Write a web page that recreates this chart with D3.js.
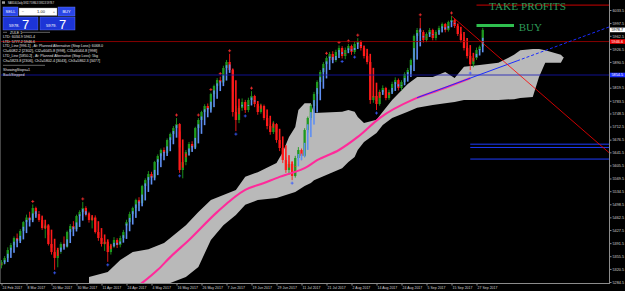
<!DOCTYPE html>
<html>
<head>
<meta charset="utf-8">
<script src="https://cdn.jsdelivr.net/npm/d3@7"></script>
<style>
  html, body { margin: 0; padding: 0; background: #000; overflow: hidden; }
  text { font-family: "Liberation Sans", Arial, sans-serif; }
</style>
</head>
<body>
<script>
// NAS100 daily, Feb - Sep 2017

const dateIdx = [0, 8, 16, 24, 32, 40, 48, 56, 64, 72, 80, 88, 96, 104, 112, 120, 128, 136, 144, 152];
const dateLabels = ["24 Feb 2017", "8 Mar 2017", "20 Mar 2017", "30 Mar 2017", "11 Apr 2017", "24 Apr 2017",
  "4 May 2017", "16 May 2017", "26 May 2017", "7 Jun 2017", "19 Jun 2017", "29 Jun 2017", "11 Jul 2017",
  "21 Jul 2017", "2 Aug 2017", "14 Aug 2017", "24 Aug 2017", "5 Sep 2017", "15 Sep 2017", "27 Sep 2017"];

const priceTicks = [6033.5, 5997.5, 5962.5, 5926.5, 5890.5, 5855.5, 5819.5, 5783.5, 5748.5, 5712.5, 5676.5,
  5641.5, 5605.5, 5569.5, 5534.5, 5498.5, 5462.5, 5427.5, 5391.5, 5355.5, 5320.5, 5284.5];

// [open, high, low, close]
const candles = [
  [5330,5345,5322,5339.5],[5339.5,5356,5332,5350.5],[5350.5,5380,5346,5372.5],[5372.5,5392,5365,5386.3],
  [5386.3,5410,5380,5405.6],[5405.6,5418,5392,5398],[5398,5430,5394,5425],[5425,5452,5420,5449.6],
  [5449.6,5470,5440,5462],[5462,5478,5450,5455],[5455,5498,5452,5488.2],[5488.2,5492,5466,5471.6],
  [5471.6,5480,5450,5455.2],[5455.2,5462,5428,5433.1],[5433.1,5445,5405,5440],[5440,5442,5385,5389.1],
  [5389.1,5398,5360,5367],[5367,5380,5318,5350.5],[5350.5,5378,5325,5372.5],[5372.5,5394,5362,5389.1],
  [5389.1,5410,5378,5382],[5382,5426,5378,5422.1],[5422.1,5444,5415,5438.6],[5438.6,5452,5425,5430],
  [5430,5470,5428,5466.2],[5466.2,5482,5458,5477.2],[5477.2,5505,5470,5488.2],[5488.2,5493,5465,5471.6],
  [5471.6,5478,5448,5455.2],[5455.2,5466,5432,5462],[5462,5468,5418,5422.1],[5422.1,5430,5398,5405.6],
  [5405.6,5415,5382,5389.1],[5389.1,5400,5370,5395],[5395,5398,5340,5367],[5367,5390,5360,5383.5],
  [5383.5,5408,5378,5400.1],[5400.1,5405,5378,5386.3],[5386.3,5412,5380,5405.6],[5405.6,5428,5398,5422.1],
  [5440,5456,5436,5449.6],[5449.6,5478,5445,5471.6],[5471.6,5492,5466,5488.2],[5488.2,5514,5480,5510.2],
  [5510.2,5518,5495,5502],[5502,5552,5498,5548.8],[5548.8,5570,5540,5565.3],[5565.3,5590,5556,5581.8],
  [5581.8,5588,5562,5572],[5572,5618,5568,5614.9],[5614.9,5636,5608,5631.4],[5631.4,5652,5624,5648],
  [5648,5655,5630,5640],[5640,5680,5636,5675.5],[5675.5,5696,5668,5692],[5692,5714,5686,5708.5],
  [5708.5,5736,5702,5719.5],[5719.5,5722,5585,5592.9],[5592.9,5620,5570,5614.9],[5614.9,5648,5606,5642.4],
  [5642.4,5670,5632,5664.5],[5664.5,5672,5646,5655],[5655,5712,5650,5708.5],[5708.5,5736,5700,5730.6],
  [5730.6,5756,5722,5752.6],[5752.6,5774,5744,5769.1],[5769.1,5776,5750,5760],[5760,5806,5756,5802.1],
  [5802.1,5828,5794,5824.2],[5824.2,5846,5815,5840.7],[5840.7,5850,5826,5834],[5834,5880,5830,5873.8],
  [5873.8,5896,5866,5890.3],[5890.3,5913,5862,5868.3],[5868.3,5872,5740,5752.6],[5752.6,5770,5700,5730.6],
  [5730.6,5770,5722,5763.6],[5763.6,5790,5756,5780.1],[5780.1,5786,5750,5758.1],[5758.1,5792,5752,5785.6],
  [5785.6,5810,5778,5796.7],[5796.7,5800,5766,5774.6],[5774.6,5782,5745,5752.6],[5752.6,5776,5748,5769.1],
  [5769.1,5773,5730,5736.1],[5736.1,5744,5705,5714],[5714,5720,5690,5697.5],[5697.5,5728,5692,5719.5],
  [5719.5,5722,5668,5675.5],[5675.5,5684,5645,5653.5],[5653.5,5660,5612,5620.4],[5620.4,5628,5585,5592.9],
  [5592.9,5616,5580,5609.4],[5609.4,5614,5565,5576.4],[5576.4,5632,5572,5625.9],[5625.9,5656,5618,5648],
  [5648,5652,5620,5632],[5632,5708,5628,5703],[5703,5740,5696,5736.1],[5736.1,5774,5730,5769.1],
  [5769.1,5808,5762,5802.1],[5802.1,5840,5796,5835.2],[5835.2,5868,5828,5862.7],[5862.7,5890,5856,5884.8],
  [5884.8,5906,5876,5901.3],[5901.3,5918,5890,5912.3],[5912.3,5920,5888,5895.8],[5895.8,5924,5890,5917.8],
  [5917.8,5936,5910,5928.8],[5928.8,5934,5900,5906.8],[5906.8,5930,5898,5923.3],[5923.3,5940,5915,5934.4],
  [5934.4,5938,5910,5917.8],[5917.8,5946,5912,5939.9],[5939.9,5956,5932,5945.4],[5945.4,5950,5922,5928.8],
  [5928.8,5934,5900,5906.8],[5906.8,5915,5884,5890.3],[5890.3,5892,5775,5785.6],[5785.6,5810,5778,5796.7],
  [5796.7,5802,5758,5774.6],[5774.6,5814,5770,5807.7],[5807.7,5826,5800,5818.7],[5818.7,5822,5785,5791.1],
  [5791.1,5814,5786,5807.7],[5807.7,5836,5802,5829.7],[5829.7,5848,5822,5840.7],[5840.7,5845,5812,5818.7],
  [5818.7,5840,5812,5835.2],[5835.2,5862,5830,5857.2],[5857.2,5874,5850,5868.3],[5868.3,5900,5862,5895.8],
  [5895.8,5966,5890,5961.9],[5961.9,5984,5955,5978.4],[5978.4,6012,5968,5972.9],[5972.9,5978,5944,5950.9],
  [5950.9,5972,5945,5967.4],[5967.4,5984,5960,5978.4],[5978.4,5982,5950,5956.4],[5956.4,5978,5950,5972.9],
  [5972.9,5990,5966,5983.9],[5983.9,5999,5976,5994.9],[5994.9,5998,5972,5978.4],[5978.4,6004,5974,6000.4],
  [6000.4,6017,5994,6005.9],[6005.9,6010,5984,5989.4],[5989.4,5994,5962,5967.4],[5967.4,5972,5944,5950.9],
  [5950.9,5958,5922,5928.8],[5928.8,5934,5900,5906.8],[5906.8,5918,5868,5884],[5884,5906,5876,5901.3],
  [5901.3,5930,5896,5923.3],[5923.3,5936,5912,5932.3],[5932.7,5984.3,5932.3,5978.7]
];

// fractal style markers (bar indices)
const upMarks = [10, 26, 56, 63, 67, 70, 73, 80, 104, 108, 111, 114, 134, 144];
const downMarks = [17, 34, 57, 75, 78, 93, 109, 113, 120, 150];

// ichimoku cloud edges (shifted forward)
const cloudIdx = [28,34,38,42,47,52,54,59,63,67,71,75,78,82,88,90,92,94,95,97,99,100,109,111,113,
  114,116,120,122,125,130,133,138,142,145,148,153,159,164,166,170,172,174,179,180];
const cloudHi = [5298,5312,5345,5367,5375,5392,5406,5441,5477,5510,5524,5538,5574,5587,5612,5642,5684,5711,
  5758,5777,5777,5750,5753,5758,5753,5739,5722,5731,5753,5786,5830,5849,5849,5863,5846,5877,5882,5888,
  5910,5923,5926,5926,5923,5910,5901];
const cloudLo = [5257,5249,5243,5243,5243,5262,5282,5298,5326,5400,5441,5469,5497,5510,5516,5521,5527,5532,
  5538,5549,5557,5565,5598,5615,5629,5648,5670,5695,5717,5736,5753,5764,5772,5777,5780,5786,5786,5786,
  5788,5791,5794,5849,5888,5888,5904];

// moving average (pink)
const maIdx = [41, 45, 50, 54, 60, 69, 78, 84, 89, 93, 97, 101, 108, 114, 121, 132, 140, 150];
const maVal = [5257, 5282, 5318, 5353, 5400, 5477, 5538, 5557, 5574, 5585, 5598, 5620, 5648, 5684, 5736, 5788, 5813, 5846];

// trend lines [idx0, price0, idx1, price1]
const blueTrend = [133, 5792, 194.5, 5987];
const redTrend = [144, 6017, 194.5, 5640];

// horizontal levels
const fullLevels = [5946.6, 5854.5];
const tpLevel = 6047;
const tpStart = 152;
const stopLevels = [5664, 5655, 5623];
const stopStart = 150;
const buyBar = [152, 164, 5991];
const bidPrice = 5978.7;

const W = 625, H = 291;
const plotR = 609, plotB = 283;

const svg = d3.select("body").append("svg")
  .attr("width", W)
  .attr("height", H)
  .style("display", "block")
  .style("background", "#000");

const x = d3.scaleLinear().domain([0, 152]).range([1.5, 476.5]);
const y = d3.scaleLinear().domain([5284.5, 6033.5]).range([282, 10]);

svg.append("defs").append("clipPath").attr("id", "plot")
  .append("rect").attr("x", 0).attr("y", 0).attr("width", plotR).attr("height", plotB);

const g = svg.append("g").attr("clip-path", "url(#plot)");

// cloud
const cloud = cloudIdx.map((d, i) => ({ i: d, hi: cloudHi[i], lo: cloudLo[i] }));
g.append("path")
  .datum(cloud)
  .attr("fill", "#b9b9b9")
  .attr("d", d3.area().x(d => x(d.i)).y0(d => y(d.lo)).y1(d => y(d.hi)));

// candles
const bars = candles.map((c, i) => ({ i, o: c[0], h: c[1], l: c[2], c: c[3] }));
const candleColor = d => d.c >= d.o ? "#1e9a1e" : "#ff1a1a";

g.selectAll("line.wick")
  .data(bars)
  .enter()
  .append("line")
  .attr("class", "wick")
  .attr("x1", d => x(d.i)).attr("x2", d => x(d.i))
  .attr("y1", d => y(d.h)).attr("y2", d => y(d.l))
  .attr("stroke", candleColor)
  .attr("stroke-width", 0.9);

g.selectAll("rect.body")
  .data(bars)
  .enter()
  .append("rect")
  .attr("class", "body")
  .attr("x", d => x(d.i) - 1.15)
  .attr("width", 2.3)
  .attr("y", d => y(Math.max(d.o, d.c)))
  .attr("height", d => Math.max(0.8, Math.abs(y(d.o) - y(d.c))))
  .attr("fill", candleColor);

// heiken ashi bodies
const ha = [];
bars.forEach((d, i) => {
  const hc = (d.o + d.h + d.l + d.c) / 4;
  const ho = i === 0 ? (d.o + d.c) / 2 : (ha[i - 1].o + ha[i - 1].c) / 2;
  ha.push({ i: d.i, o: ho, c: hc });
});

g.selectAll("rect.ha")
  .data(ha)
  .enter()
  .append("rect")
  .attr("class", "ha")
  .attr("x", d => x(d.i) - 0.8)
  .attr("width", 1.6)
  .attr("y", d => y(Math.max(d.o, d.c)))
  .attr("height", d => Math.max(0.7, Math.abs(y(d.o) - y(d.c))))
  .attr("fill", d => d.c >= d.o ? "#5f8ff2" : "#ff1a1a");

// markers
upMarks.forEach(i => {
  const cx = x(i), cy = y(candles[i][1]) - 3;
  g.append("path").attr("d", `M${cx - 1.5},${cy}H${cx + 1.5}M${cx},${cy - 1.5}V${cy + 1.5}`)
    .attr("stroke", "#ff3030").attr("stroke-width", 0.8);
});
downMarks.forEach(i => {
  const cx = x(i), cy = y(candles[i][2]) + 3;
  g.append("path").attr("d", `M${cx - 1.5},${cy}H${cx + 1.5}M${cx},${cy - 1.5}V${cy + 1.5}`)
    .attr("stroke", "#3a5cff").attr("stroke-width", 0.8);
});

// moving average
g.append("path")
  .datum(maIdx.map((d, i) => [d, maVal[i]]))
  .attr("fill", "none")
  .attr("stroke", "#ff2a9a")
  .attr("stroke-width", 2.1)
  .attr("d", d3.line().x(d => x(d[0])).y(d => y(d[1])).curve(d3.curveMonotoneX));

// horizontal levels
fullLevels.forEach((p, k) => {
  g.append("line")
    .attr("x1", 0).attr("x2", plotR)
    .attr("y1", y(p)).attr("y2", y(p))
    .attr("stroke", k === 0 ? "#a80000" : "#1414b4")
    .attr("stroke-width", 0.8);
});
g.append("line")
  .attr("x1", x(tpStart)).attr("x2", plotR)
  .attr("y1", y(tpLevel)).attr("y2", y(tpLevel))
  .attr("stroke", "#ff0000").attr("stroke-width", 0.8);
stopLevels.forEach(p => {
  g.append("line")
    .attr("x1", x(stopStart)).attr("x2", plotR)
    .attr("y1", y(p)).attr("y2", y(p))
    .attr("stroke", "#1e3cff").attr("stroke-width", 1);
});

// trend lines
const blueMid = 165;
const bluePriceMid = d3.interpolateNumber(blueTrend[1], blueTrend[3])((blueMid - blueTrend[0]) / (blueTrend[2] - blueTrend[0]));
g.append("line")
  .attr("x1", x(blueTrend[0])).attr("y1", y(blueTrend[1]))
  .attr("x2", x(blueMid)).attr("y2", y(bluePriceMid))
  .attr("stroke", "#1a2cff").attr("stroke-width", 1);
g.append("line")
  .attr("x1", x(blueMid)).attr("y1", y(bluePriceMid))
  .attr("x2", x(blueTrend[2])).attr("y2", y(blueTrend[3]))
  .attr("stroke", "#1a2cff").attr("stroke-width", 1)
  .attr("stroke-dasharray", "3,2");
g.append("line")
  .attr("x1", x(redTrend[0])).attr("y1", y(redTrend[1]))
  .attr("x2", x(redTrend[2])).attr("y2", y(redTrend[3]))
  .attr("stroke", "#ff0000").attr("stroke-width", 0.8);

// buy bar + labels
g.append("line")
  .attr("x1", x(buyBar[0])).attr("x2", x(buyBar[1]))
  .attr("y1", y(buyBar[2])).attr("y2", y(buyBar[2]))
  .attr("stroke", "#2fbf4f").attr("stroke-width", 3);
g.append("text")
  .attr("x", x(156)).attr("y", y(6033))
  .attr("fill", "#2e9a58")
  .style("font-family", "'Liberation Serif', 'Times New Roman', serif")
  .style("font-size", "10px")
  .attr("textLength", 77).attr("lengthAdjust", "spacingAndGlyphs")
  .text("TAKE PROFITS");
g.append("text")
  .attr("x", x(165.5)).attr("y", y(5976))
  .attr("fill", "#2e9a58")
  .style("font-family", "'Liberation Serif', 'Times New Roman', serif")
  .style("font-size", "11px")
  .text("BUY");

// axes
const axisColor = "#8c8c8c";
svg.append("line").attr("x1", plotR + 0.5).attr("x2", plotR + 0.5).attr("y1", 0).attr("y2", plotB)
  .attr("stroke", axisColor).attr("stroke-width", 1);
svg.append("line").attr("x1", 0).attr("x2", plotR + 1).attr("y1", plotB + 0.5).attr("y2", plotB + 0.5)
  .attr("stroke", axisColor).attr("stroke-width", 1);
svg.append("line").attr("x1", 0.5).attr("x2", 0.5).attr("y1", 0).attr("y2", plotB)
  .attr("stroke", "#444").attr("stroke-width", 1);

const yAxis = d3.axisRight(y).tickValues(priceTicks).tickSize(2).tickPadding(1).tickFormat(d3.format(".1f"));
const ya = svg.append("g").attr("transform", `translate(${plotR + 0.5},0)`).call(yAxis);
ya.select(".domain").remove();
ya.selectAll("line").attr("stroke", axisColor);
ya.selectAll("text").attr("fill", "#d2d2d2").style("font-size", "3.8px");

const xAxis = d3.axisBottom(x).tickValues(dateIdx).tickSize(2).tickPadding(0.6).tickFormat((d, i) => dateLabels[i]);
const xa = svg.append("g").attr("transform", `translate(0,${plotB + 0.5})`).call(xAxis);
xa.select(".domain").remove();
xa.selectAll("line").attr("stroke", axisColor);
xa.selectAll("text").attr("fill", "#d2d2d2").attr("text-anchor", "start").attr("dx", 0.6).style("font-size", "3.5px");

// price boxes on the axis
const boxes = [[bidPrice, "#ffffff", "#000"], [fullLevels[0], "#ee0000", "#fff"], [fullLevels[1], "#1a2cff", "#fff"]];
boxes.forEach(b => {
  svg.append("rect").attr("x", plotR + 1).attr("y", y(b[0]) - 2.3).attr("width", 15).attr("height", 4.6).attr("fill", b[1]);
  svg.append("text").attr("x", plotR + 2.5).attr("y", y(b[0]) + 1.3).attr("fill", b[2])
    .style("font-size", "3.8px").text(d3.format(".1f")(b[0]));
});

// top-left trade panel
const ui = svg.append("g");
ui.append("text").attr("x", 8).attr("y", 4.2).attr("fill", "#e8e8e8").style("font-size", "3.6px")
  .attr("textLength", 46).attr("lengthAdjust", "spacingAndGlyphs")
  .text("NAS100,Daily  5932.7 5984.3 5932.3 5978.7");
ui.append("rect").attr("x", 2).attr("y", 1.3).attr("width", 3).attr("height", 2.5).attr("fill", "#9a9a9a");

ui.append("rect").attr("x", 3).attr("y", 7).attr("width", 15).attr("height", 9).attr("fill", "#2a46e8").attr("stroke", "#6f84ff").attr("stroke-width", 0.4);
ui.append("rect").attr("x", 58).attr("y", 7).attr("width", 17).attr("height", 9).attr("fill", "#2a46e8").attr("stroke", "#6f84ff").attr("stroke-width", 0.4);
ui.append("rect").attr("x", 19).attr("y", 8).attr("width", 38).attr("height", 7.5).attr("fill", "#ffffff").attr("stroke", "#999").attr("stroke-width", 0.4);
ui.append("text").attr("x", 10.5).attr("y", 13).attr("text-anchor", "middle").attr("fill", "#fff").style("font-size", "4px").text("SELL");
ui.append("text").attr("x", 66.5).attr("y", 13).attr("text-anchor", "middle").attr("fill", "#fff").style("font-size", "4px").text("BUY");
ui.append("text").attr("x", 23).attr("y", 13).attr("text-anchor", "middle").attr("fill", "#555").style("font-size", "4px").text("−");
ui.append("text").attr("x", 41).attr("y", 13).attr("text-anchor", "middle").attr("fill", "#222").style("font-size", "4px").text("1.00");
ui.append("text").attr("x", 54).attr("y", 13).attr("text-anchor", "middle").attr("fill", "#555").style("font-size", "4px").text("+");

[[3, "5978.", "7"], [40, "5979.", "7"]].forEach(p => {
  ui.append("rect").attr("x", p[0]).attr("y", 17).attr("width", 35).attr("height", 13)
    .attr("fill", "#1c34d6").attr("stroke", "#6f84ff").attr("stroke-width", 0.4);
  ui.append("text").attr("x", p[0] + 6).attr("y", 27.3).attr("fill", "#fff").style("font-size", "4.2px").text(p[1]);
  ui.append("text").attr("x", p[0] + 19).attr("y", 28.8).attr("fill", "#fff").style("font-size", "13px").text(p[2]);
});

ui.append("line").attr("x1", 3).attr("x2", 7).attr("y1", 32.3).attr("y2", 32.3).attr("stroke", "#aaa").attr("stroke-width", 0.6);
ui.append("text").attr("x", 10).attr("y", 33.5).attr("fill", "#e0e0e0").style("font-size", "3.6px").text("ZULE 1");
ui.append("line").attr("x1", 22).attr("x2", 50).attr("y1", 32.3).attr("y2", 32.3).attr("stroke", "#aaa").attr("stroke-width", 0.6);

const infoLines = [
  ["LTD: 6034.9  5961.4", 32],
  ["LTD: 5777.2  5946.6", 32],
  ["LTD_Line [996.1] , At: Planned Alternative (Stop Loss): 6068.0", 100],
  ["Cl=6082.2 [2302], Cl2=6045.8 [998], Cl3=6044.8 [998]", 94],
  ["LTD_Line [5850.2] , At: Planned Alternative (Stop Loss): 5kg", 95],
  ["Ch=5823.8 [2306], Ch2=5802.4 [3043], Ch3=5862.3 [3477]", 97]
];
const infoY = [38, 42.6, 47.3, 52, 56.7, 61.6];
infoLines.forEach((t, k) => {
  ui.append("text").attr("x", 3).attr("y", infoY[k]).attr("fill", "#e0e0e0").style("font-size", "3.6px")
    .attr("textLength", t[1]).attr("lengthAdjust", "spacingAndGlyphs").text(t[0]);
});
ui.append("line").attr("x1", 3).attr("x2", 45).attr("y1", 65.3).attr("y2", 65.3).attr("stroke", "#aaa").attr("stroke-width", 0.6);
ui.append("text").attr("x", 3).attr("y", 71).attr("fill", "#e0e0e0").style("font-size", "3.6px").text("ShowingStops=1");
ui.append("text").attr("x", 3).attr("y", 76).attr("fill", "#e0e0e0").style("font-size", "3.6px").text("BackStepped");
</script>
</body>
</html>
